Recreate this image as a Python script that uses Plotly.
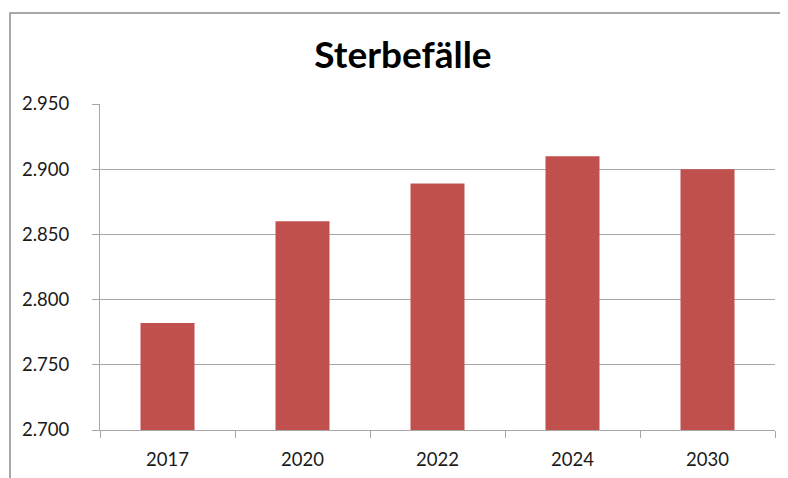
import plotly.graph_objects as go

# Sterbefälle per year (German number format)
years = ["2017", "2020", "2022", "2024", "2030"]
deaths = [2782, 2860, 2889, 2910, 2900]

bar_color = "#C0504D"
grid_color = "#A6A6A6"

# the page body adds an 8px margin, so the figure is a bit smaller than the window
W, H = 780, 470
L, R, T, B = 92, 13, 96, 48
pw, ph = W - L - R, H - T - B

fig = go.Figure()
fig.add_trace(go.Bar(x=years, y=deaths, marker=dict(color=bar_color, line=dict(width=0)),
                     width=0.4))

fig.update_layout(
    width=W, height=H,
    paper_bgcolor="white", plot_bgcolor="white",
    separators=",.",
    margin=dict(l=L, r=R, t=T, b=B),
    title=dict(text="<b>Sterbefälle</b>", x=(403 - 8) / W, xanchor="center",
               y=1 - (55 - 8) / H, yanchor="middle",
               font=dict(family="Lato", size=37, color="black")),
    font=dict(family="Lato", size=18.5, color="#1a1a1a"),
    showlegend=False,
)

fig.update_yaxes(range=[2700, 2950], dtick=50, tickformat=",d",
                 showgrid=True, gridcolor=grid_color, gridwidth=1,
                 showline=True, linecolor=grid_color, linewidth=1,
                 ticks="outside", ticklen=7, tickcolor=grid_color,
                 ticklabelstandoff=19, zeroline=False, automargin=False)
fig.update_xaxes(showline=True, linecolor=grid_color, linewidth=1,
                 ticks="outside", ticklen=7, tickcolor=grid_color, tickson="boundaries",
                 ticklabelstandoff=13, showgrid=False, automargin=False)

# outer chart border (cut off on the right and bottom)
fig.add_shape(type="rect", xref="paper", yref="paper",
              x0=(2 - L) / pw, x1=(W + 20 - L) / pw,
              y0=-(B + 20) / ph, y1=(ph + T - 5) / ph,
              line=dict(color="#8C8C8C", width=1.5), fillcolor="rgba(0,0,0,0)", layer="below")

fig.write_html("out.html")
